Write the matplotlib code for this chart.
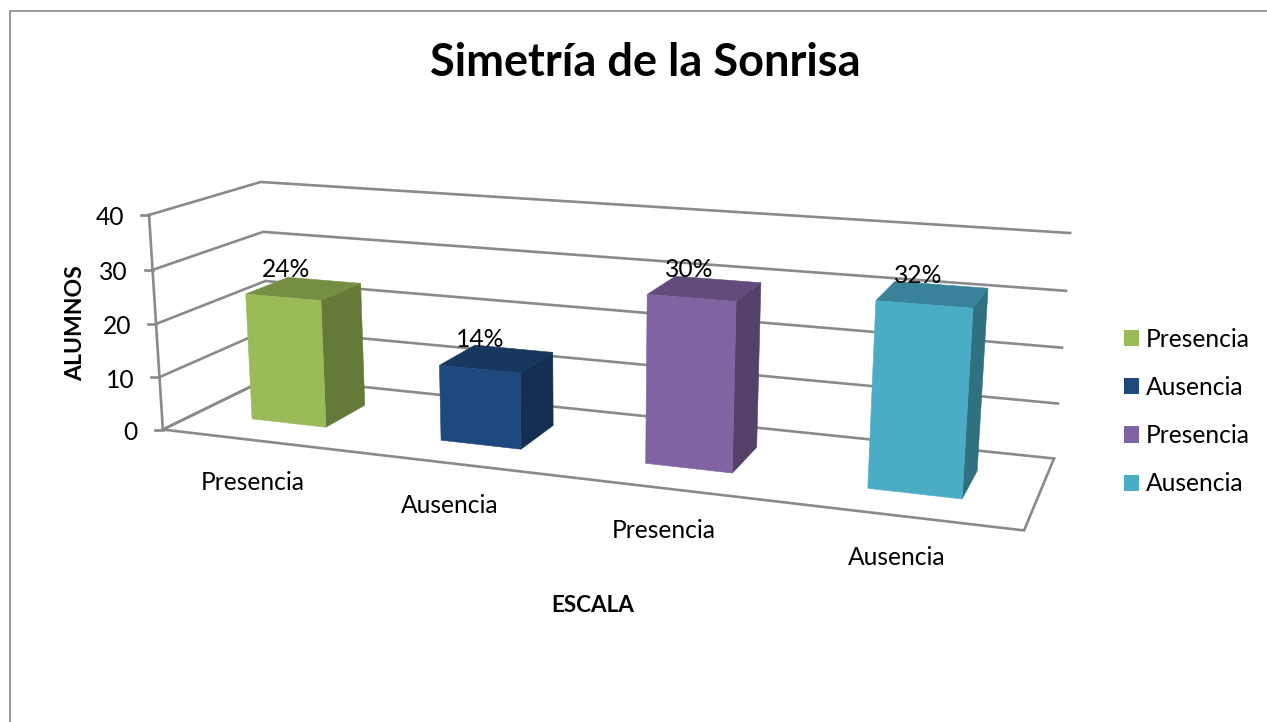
import numpy as np
import matplotlib
matplotlib.use("Agg")
import matplotlib.pyplot as plt
from matplotlib.patches import Polygon, Patch

# ---- chart data ----
categories = ["Presencia", "Ausencia", "Presencia", "Ausencia"]
values = [24, 14, 30, 32]
bar_labels = ["24%", "14%", "30%", "32%"]
z_ticks = [0, 10, 20, 30, 40]
front_colors = ["#9BBB59", "#1F497D", "#8064A2", "#4BACC6"]
side_colors = ["#657A39", "#142F51", "#534169", "#317081"]
top_colors = ["#768E44", "#17375F", "#614C7B", "#39839A"]
title = "Simetría de la Sonrisa"
x_title = "ESCALA"
y_title = "ALUMNOS"

LINE = "#8A8A8A"
FONT = "Lato"
plt.rcParams["font.family"] = [FONT, "DejaVu Sans"]

# ---- 3D scale: pinhole camera calibrated on the chart box ----
world = np.array([(0, 0, 0), (0, 0, 10), (0, 0, 20), (0, 0, 30), (0, 0, 40),
                  (0, 1, 0), (0, 1, 10), (0, 1, 20), (0, 1, 30), (0, 1, 40),
                  (4, 1, 0), (4, 1, 10), (4, 1, 20), (4, 1, 30), (4, 1, 40),
                  (4, 0, 0)], float)
screen = np.array([(162, 429), (160, 377), (157, 324), (153, 270), (148, 215),
                   (270, 378), (268, 330), (265, 280), (263, 232), (261, 182),
                   (1054, 458), (1058, 403), (1062, 348), (1066, 291), (1070, 233),
                   (1024, 531)], float)


def fit_camera(w, s):
    rows = []
    for (X, Y, Z), (u, v) in zip(w, s):
        rows.append([X, Y, Z, 1, 0, 0, 0, 0, -u * X, -u * Y, -u * Z, -u])
        rows.append([0, 0, 0, 0, X, Y, Z, 1, -v * X, -v * Y, -v * Z, -v])
    return np.linalg.svd(np.array(rows))[2][-1].reshape(3, 4)


CAM = fit_camera(world, screen)


def proj(x, y, z):
    p = CAM @ np.array([x, y, z, 1.0])
    return p[0] / p[2], p[1] / p[2]


fig = plt.figure(figsize=(12.67, 7.22), dpi=100)
ax = fig.add_axes([0, 0, 1, 1])
ax.set_xlim(0, 1267)
ax.set_ylim(722, 0)
ax.axis("off")

# chart frame
ax.plot([10, 10, 1267], [722, 11, 11], color=LINE, lw=1.2, zorder=1)

LW = 1.9
FS = 17.7
n = len(categories)
# gridlines on walls
for z in z_ticks:
    ax.plot(*zip(proj(0, 0, z), proj(0, 1, z), proj(n, 1, z)), color=LINE, lw=LW,
            zorder=2, solid_joinstyle="miter")
    tx, ty = proj(0, 0, z)
    ax.plot([tx - 8, tx], [ty, ty], color=LINE, lw=LW, zorder=2)
    ax.annotate(str(z), (tx, ty), xytext=(-25, -1), textcoords="offset pixels",
                ha="right", va="center_baseline", fontsize=FS, color="black")
# floor and axis
ax.plot(*zip(proj(0, 1, 0), proj(0, 0, 0), proj(n, 0, 0), proj(n, 1, 0)), color=LINE,
        lw=LW, zorder=2, solid_joinstyle="miter")
ax.plot(*zip(proj(0, 0, 0), proj(0, 0, max(z_ticks))), color=LINE, lw=LW, zorder=2)

# bars
W0, W1 = 0.305, 0.705
D0, D1 = 0.3, 0.7
for i, v in enumerate(values):
    x0, x1 = i + W0, i + W1
    y0, y1 = D0, D1
    front = [proj(x0, y0, 0), proj(x1, y0, 0), proj(x1, y0, v), proj(x0, y0, v)]
    side = [proj(x1, y0, 0), proj(x1, y1, 0), proj(x1, y1, v), proj(x1, y0, v)]
    top = [proj(x0, y0, v), proj(x1, y0, v), proj(x1, y1, v), proj(x0, y1, v)]
    for pts, c in ((side, side_colors[i]), (top, top_colors[i]), (front, front_colors[i])):
        ax.add_patch(Polygon(pts, closed=True, facecolor=c, edgecolor=c, lw=0.4, zorder=3))
    ax.annotate(bar_labels[i], proj(i + 0.5, y0 + 0.14, v), xytext=(-11, 22),
                textcoords="offset pixels", ha="center", va="center", fontsize=FS,
                color="black", zorder=5)
    ax.annotate(categories[i], proj(i + 0.5, 0, 0), xytext=(-3, -42),
                textcoords="offset pixels", ha="center", va="center", fontsize=FS,
                color="black", zorder=5)

# titles
ax.text(645.5, 63, title, ha="center", va="center", fontsize=32.5, fontweight="bold", color="black")
ax.text(593, 605, x_title, ha="center", va="center", fontsize=16.2, fontweight="bold", color="black")
ax.text(76, 323, y_title, ha="center", va="center", rotation=90, fontsize=16.6,
        fontweight="bold", color="black")

# legend
handles = [Patch(facecolor=c, edgecolor="none") for c in front_colors]
ax.legend(handles, categories, loc="center left", bbox_to_anchor=(1124 / 1267, 1 - 411.5 / 722),
          frameon=False, fontsize=FS, handlelength=0.61, handleheight=0.63,
          handletextpad=0.28, labelspacing=1.03, borderaxespad=0, borderpad=0)

fig.savefig("out.png", dpi=100)
